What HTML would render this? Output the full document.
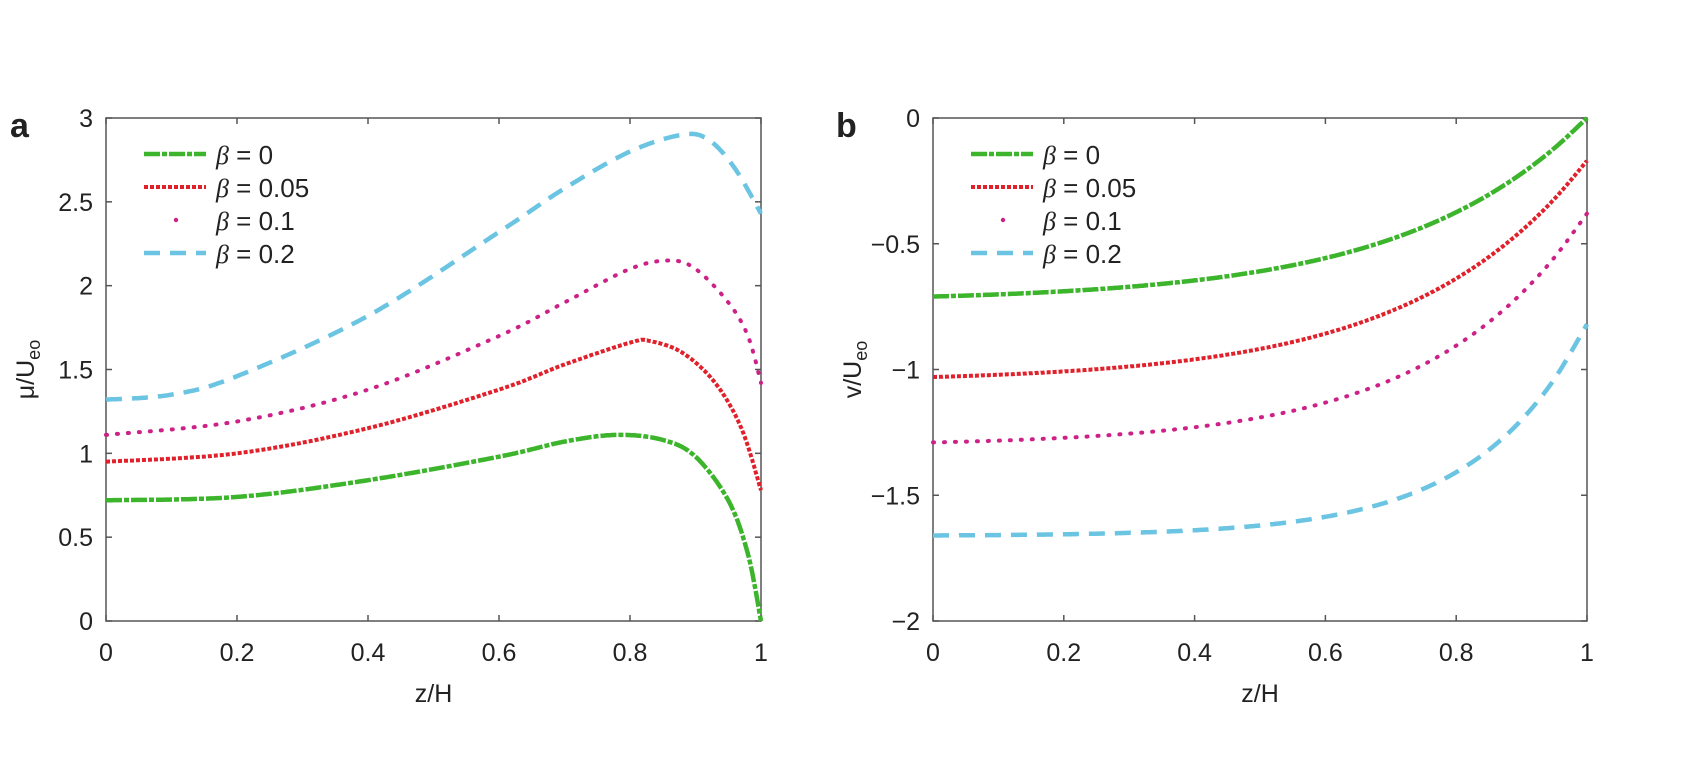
<!DOCTYPE html>
<html><head><meta charset="utf-8"><style>
body{margin:0;background:#fff;}
svg text{font-family:"Liberation Sans",sans-serif;fill:#222;}
</style></head><body>
<svg id="s" width="1692" height="765" xmlns="http://www.w3.org/2000/svg">
<rect width="1692" height="765" fill="#fff"/>
<text x="10" y="137" font-size="34" font-weight="bold">a</text>
<text x="836" y="137" font-size="34" font-weight="bold">b</text>
<g id="g"></g>
</svg>
<script>
const g=document.getElementById('g');let h='';
function cr(pts,X,Y){let out=[];const P=[pts[0],...pts,pts[pts.length-1]];
for(let i=1;i<P.length-2;i++){const p0=P[i-1],p1=P[i],p2=P[i+1],p3=P[i+2];
for(let t=0;t<1;t+=0.02){const t2=t*t,t3=t2*t;
const f=k=>0.5*((2*p1[k])+(-p0[k]+p2[k])*t+(2*p0[k]-5*p1[k]+4*p2[k]-p3[k])*t2+(-p0[k]+3*p1[k]-3*p2[k]+p3[k])*t3);
out.push(X(f(0)).toFixed(1)+','+Y(f(1)).toFixed(1));}}
const l=pts[pts.length-1];out.push(X(l[0])+','+Y(l[1]));return out.join(' ');}
const styles=[
 'stroke="#3cb52c" stroke-width="4.5" stroke-dasharray="16 2 5 2"',
 'stroke="#e0202a" stroke-width="4" stroke-dasharray="4 2"',
 'stroke="#cc2288" stroke-width="4" stroke-dasharray="1 10" stroke-linecap="round"',
 'stroke="#6ac4e2" stroke-width="4.5" stroke-dasharray="16 10"'];
function panel(x0,x1,y0,y1,ymin,ymax,yt,ylab,series,ylabTxt){
 const X=v=>x0+(x1-x0)*v, Y=v=>y1-(y1-y0)*(v-ymin)/(ymax-ymin);
 h+=`<rect x="${x0}" y="${y0}" width="${x1-x0}" height="${y1-y0}" fill="none" stroke="#555" stroke-width="1.5"/>`;
 for(let i=0;i<=5;i++){const x=X(i/5);h+=`<line x1="${x}" y1="${y1}" x2="${x}" y2="${y1-6}" stroke="#555" stroke-width="1.5"/><line x1="${x}" y1="${y0}" x2="${x}" y2="${y0+6}" stroke="#555" stroke-width="1.5"/>`;
 h+=`<text x="${x}" y="661" font-size="25" text-anchor="middle">${['0','0.2','0.4','0.6','0.8','1'][i]}</text>`;}
 yt.forEach((v,i)=>{const y=Y(v);h+=`<line x1="${x0}" y1="${y}" x2="${x0+6}" y2="${y}" stroke="#555" stroke-width="1.5"/><line x1="${x1}" y1="${y}" x2="${x1-6}" y2="${y}" stroke="#555" stroke-width="1.5"/>`;
 h+=`<text x="${x0-13}" y="${y+9}" font-size="25" text-anchor="end">${ylab[i]}</text>`;});
 h+=`<text x="${(x0+x1)/2}" y="702" font-size="25" text-anchor="middle">z/H</text>`;
 h+=`<text transform="translate(${x0-72},${(y0+y1)/2}) rotate(-90)" font-size="25" text-anchor="middle">${ylabTxt}</text>`;
 series.forEach((s,i)=>{h+=`<polyline points="${cr(s,X,Y)}" fill="none" ${styles[i]}/>`;});
 const lb=['0','0.05','0.1','0.2'];
 lb.forEach((t,i)=>{const y=154+i*33;const lx=x0+38;
 if(i==2)h+=`<circle cx="${lx+32}" cy="${y}" r="2.2" fill="#cc2288"/>`;else h+=`<line x1="${lx}" y1="${y}" x2="${lx+62}" y2="${y}" ${styles[i]}/>`;
 h+=`<text x="${lx+72}" y="${y+10}" font-size="26"><tspan font-family="Liberation Serif" font-style="italic">β</tspan> = ${t}</text>`;});
}
panel(106,761,118,621,0,3,[0,0.5,1,1.5,2,2.5,3],['0','0.5','1','1.5','2','2.5','3'],[
[[0,.72],[.2,.74],[.4,.84],[.6,.98],[.7,1.07],[.78,1.11],[.85,1.08],[.9,.98],[.95,.72],[.98,.4],[1,0]],
[[0,.95],[.2,1.0],[.4,1.15],[.6,1.38],[.7,1.53],[.8,1.66],[.83,1.67],[.88,1.6],[.93,1.42],[.97,1.15],[1,.78]],
[[0,1.11],[.2,1.19],[.4,1.38],[.6,1.7],[.7,1.9],[.8,2.1],[.86,2.15],[.9,2.1],[.95,1.9],[.98,1.7],[1,1.42]],
[[0,1.32],[.1,1.35],[.2,1.46],[.4,1.82],[.6,2.32],[.7,2.58],[.8,2.8],[.88,2.9],[.92,2.87],[.96,2.7],[1,2.43]]],'μ/U<tspan font-size="18" dy="6">eo</tspan>');
function ex(a,b,k){let p=[];for(let i=0;i<=20;i++){const z=i/20;p.push([z,a+(b-a)*(Math.exp(k*z)-1)/(Math.exp(k)-1)]);}return p;}
panel(933,1587,118,621,-2,0,[-2,-1.5,-1,-0.5,0],['−2','−1.5','−1','−0.5','0'],[
ex(-0.71,0,3.6),ex(-1.03,-0.17,3.8),ex(-1.29,-0.38,4.2),ex(-1.66,-0.82,6)],'v/U<tspan font-size="18" dy="6">eo</tspan>');
g.innerHTML=h;
</script>
</body></html>
